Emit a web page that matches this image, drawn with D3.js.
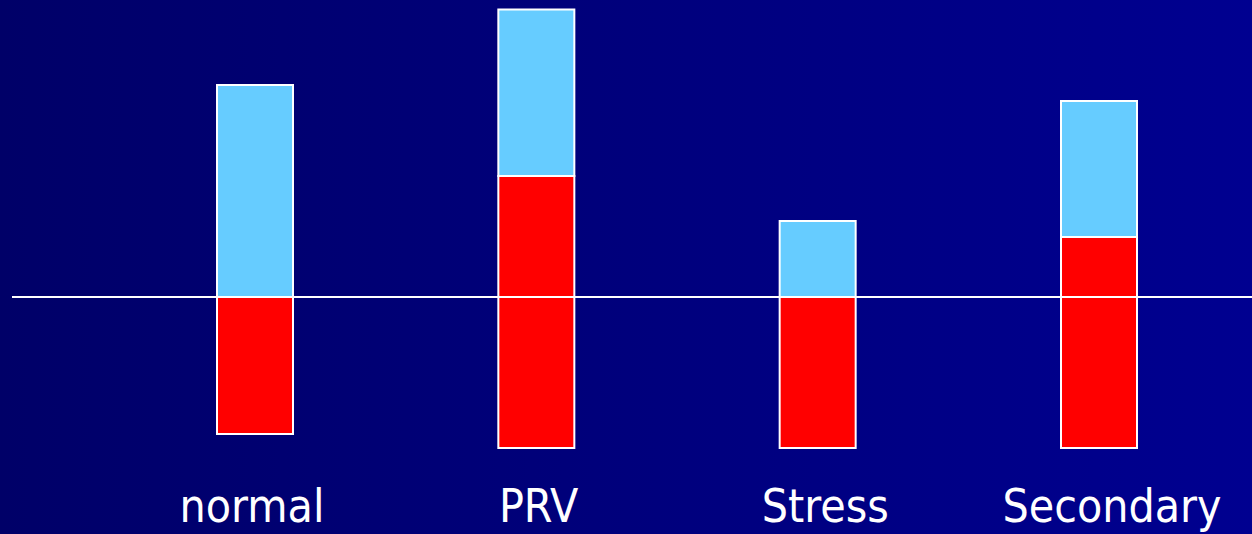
<!DOCTYPE html>
<html>
<head>
<meta charset="utf-8">
<script src="https://cdn.jsdelivr.net/npm/d3@7"></script>
<style>
html,body{margin:0;padding:0;background:#000070;}
svg{display:block;}
</style>
</head>
<body>
<script>
const categories = ["normal", "PRV", "Stress", "Secondary"];
// red cell mass (red segment), plasma volume (light blue segment), depth of bar below baseline
const redCellMass = [27.4, 54.4, 30.2, 42.2];
const plasmaVolume = [42.4, 33.3, 15.2, 27.2];
const belowBaseline = [27.4, 30.2, 30.2, 30.2];

const W = 1252, H = 534;
const svg = d3.select("body").append("svg").attr("width", W).attr("height", H);

const defs = svg.append("defs");
const grad = defs.append("linearGradient").attr("id", "bg").attr("x1", "0%").attr("x2", "100%").attr("y1", "0%").attr("y2", "0%");
grad.append("stop").attr("offset", "0%").attr("stop-color", "#000068");
grad.append("stop").attr("offset", "100%").attr("stop-color", "#000090");
svg.append("rect").attr("width", W).attr("height", H).attr("fill", "url(#bg)");

const x = d3.scalePoint().domain(categories).range([255, 1099]).padding(0);
const xLabel = d3.scalePoint().domain(categories).range([252, 1112]).padding(0);
const y = d3.scaleLinear().domain([-47.4, 59.4]).range([H, 0]);
const barW = 76;

const data = categories.map((c, i) => ({
  cat: c,
  bottom: -belowBaseline[i],
  split: -belowBaseline[i] + redCellMass[i],
  top: -belowBaseline[i] + redCellMass[i] + plasmaVolume[i]
}));

const g = svg.append("g");
// red segments
g.selectAll("rect.red").data(data).join("rect")
  .attr("class", "red")
  .attr("x", d => x(d.cat) - barW / 2)
  .attr("width", barW)
  .attr("y", d => y(d.split))
  .attr("height", d => y(d.bottom) - y(d.split))
  .attr("fill", "#ff0000")
  .attr("stroke", "#ffffff").attr("stroke-width", 2);
// plasma segments
g.selectAll("rect.blue").data(data).join("rect")
  .attr("class", "blue")
  .attr("x", d => x(d.cat) - barW / 2)
  .attr("width", barW)
  .attr("y", d => y(d.top))
  .attr("height", d => y(d.split) - y(d.top))
  .attr("fill", "#66ccff")
  .attr("stroke", "#ffffff").attr("stroke-width", 2);

// baseline (drawn over the bars)
svg.append("line")
  .attr("x1", 12).attr("x2", W)
  .attr("y1", y(0)).attr("y2", y(0))
  .attr("stroke", "#ffffff").attr("stroke-width", 2);

// category labels
svg.selectAll("text.lab").data(categories).join("text")
  .attr("class", "lab")
  .attr("x", d => xLabel(d))
  .attr("y", 522)
  .attr("text-anchor", "middle")
  .attr("fill", "#ffffff")
  .attr("font-family", "'DejaVu Sans Condensed', 'DejaVu Sans', sans-serif")
  .attr("font-size", 46)
  .text(d => d);
</script>
</body>
</html>
